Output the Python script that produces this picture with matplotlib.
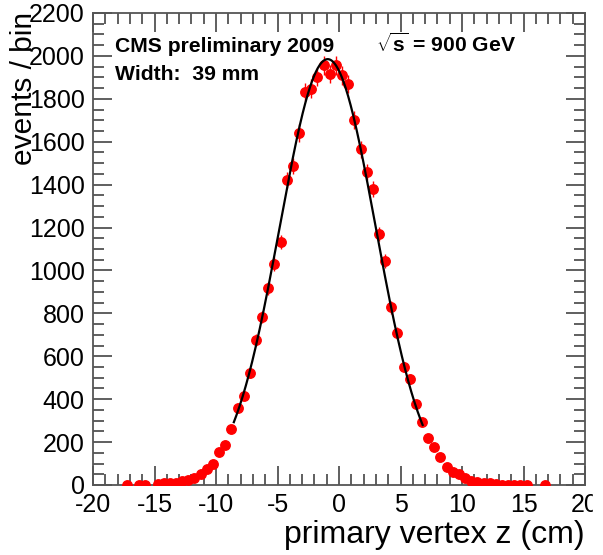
import numpy as np
import matplotlib
matplotlib.use("Agg")
import matplotlib.pyplot as plt
from matplotlib.ticker import MultipleLocator
from matplotlib.patches import Rectangle

plt.rcParams['font.family'] = ['Liberation Sans', 'DejaVu Sans']
plt.rcParams['mathtext.fontset'] = 'custom'
plt.rcParams['mathtext.rm'] = 'Liberation Sans'
plt.rcParams['mathtext.bf'] = 'Liberation Sans:bold'
plt.rcParams['axes.unicode_minus'] = False

# bin centres (cm) and counts
z = [-17.25, -16.25, -15.75, -14.75, -14.25, -13.75, -13.25, -12.75, -12.25,
     -11.75, -11.25, -10.75, -10.25, -9.75, -9.25, -8.75, -8.25, -7.75, -7.25,
     -6.75, -6.25, -5.75, -5.25, -4.75, -4.25, -3.75, -3.25, -2.75, -2.25,
     -1.75, -1.25, -0.75, -0.25, 0.25, 0.75, 1.25, 1.75, 2.25, 2.75,
     3.25, 3.75, 4.25, 4.75, 5.25, 5.75, 6.25, 6.75, 7.25, 7.75,
     8.25, 8.75, 9.25, 9.75, 10.25, 10.75, 11.25, 11.75, 12.25, 12.75,
     13.25, 13.75, 14.25, 14.75, 15.25, 16.75]
counts = [1, 1, 1, 5, 8, 11, 11, 17, 23,
          31, 50, 73, 99, 152, 185, 260, 357, 415, 522,
          676, 782, 917, 1029, 1133, 1420, 1486, 1641, 1832, 1848,
          1902, 1957, 1916, 1957, 1910, 1869, 1702, 1565, 1458, 1378,
          1170, 1044, 828, 709, 551, 495, 376, 294, 218, 176,
          132, 82, 59, 53, 31, 19, 12, 8, 8, 5,
          2, 1, 1, 1, 1, 1]

# gaussian fit shown on the plot
fit_amp = 1985.0
fit_mean = -0.92
fit_sigma = 3.9
fit_range = (-8.55, 6.8)

z = np.array(z)
counts = np.array(counts)
errs = np.sqrt(counts)

W, H = 603, 555
fig = plt.figure(figsize=(W/100, H/100), dpi=100)
ax = fig.add_axes([93/W, 1-485/H, 492/W, 472/H])

ax.errorbar(z, counts, yerr=errs, xerr=0.25, fmt='o', color='red',
            markersize=6.8, elinewidth=1.0, capsize=0, zorder=3)

xf = np.linspace(fit_range[0], fit_range[1], 300)
yf = fit_amp * np.exp(-0.5 * ((xf - fit_mean) / fit_sigma) ** 2)
ax.plot(xf, yf, color='black', lw=1.6, zorder=4)

ax.set_xlim(-20, 20)
ax.set_ylim(0, 2200)
ax.xaxis.set_major_locator(MultipleLocator(5))
ax.xaxis.set_minor_locator(MultipleLocator(1))
ax.yaxis.set_major_locator(MultipleLocator(200))
ax.yaxis.set_minor_locator(MultipleLocator(50))
ax.tick_params(which='both', direction='in', top=True, right=True,
               color='#444444', labelsize=18, width=1.2)
ax.tick_params(which='major', length=14, pad=6)
ax.tick_params(which='minor', length=8)
for s in ax.spines.values():
    s.set_color('#555555')
    s.set_linewidth(1.3)

# axis titles, ROOT style (at the far end of each axis)
fig.text(585/W, 1-543/H, 'primary vertex z (cm)', fontsize=23,
         ha='right', va='baseline')
fig.text(24/W, 1-12/H, 'events / bin', fontsize=21.5, rotation=90,
         ha='center', va='top')

fig.text(115/W, 1-52/H, 'CMS preliminary 2009', fontsize=15.2,
         fontweight='bold', va='baseline')
fig.text(115/W, 1-80/H, 'Width:  39 mm', fontsize=15.2,
         fontweight='bold', va='baseline')
fig.text(376/W, 1-52/H, r'$\sqrt{\mathbf{s}}$ = 900 GeV', fontsize=15.2,
         fontweight='bold', va='baseline')

# the reference image is cut just right of the frame
fig.patches.append(Rectangle((593/W, 0), 10/W, 1-487/H, transform=fig.transFigure,
                             color='white', zorder=10))

fig.savefig('out.png', dpi=100)
